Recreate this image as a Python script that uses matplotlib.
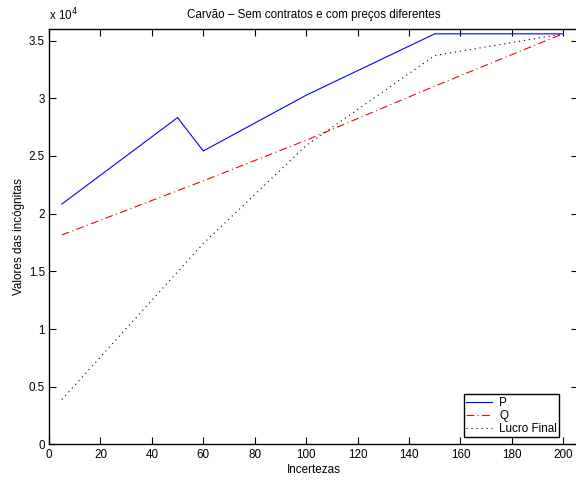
import matplotlib
matplotlib.use("Agg")
import matplotlib.pyplot as plt
from matplotlib.ticker import FuncFormatter, MultipleLocator

plt.rcParams['font.family'] = ['Liberation Sans', 'DejaVu Sans']

incertezas = [5, 50, 60, 100, 150, 200]
P = [20830, 28320, 25430, 30260, 35580, 35580]
Q = [18150, 21990, 22840, 26360, 31050, 35600]
lucro_final = [3890, 14950, 17410, 25900, 33700, 35580]

labels = ['P', 'Q', 'Lucro Final']
title = 'Carvão – Sem contratos e com preços diferentes'

FS = 8.4
fig = plt.figure(figsize=(5.76, 4.8), dpi=100)
ax = fig.add_axes([49/576, 1 - 444.4/480, (577.8 - 49)/576, (444.4 - 29)/480])

ax.plot(incertezas, P, color=(0, 0, 1), lw=0.8, linestyle='-', label=labels[0])
ax.plot(incertezas, Q, color=(1, 0, 0), lw=0.8, linestyle=(0, (7, 3, 1, 3)), label=labels[1])
ax.plot(incertezas, lucro_final, color='black', lw=0.8, linestyle=(0, (1, 3.5)), label=labels[2])

ax.set_xlim(0, (577.8 - 49) / 2.5715)
ax.set_ylim(0, 36000)
ax.xaxis.set_major_locator(MultipleLocator(20))
ax.yaxis.set_major_locator(MultipleLocator(5000))
ax.yaxis.set_major_formatter(FuncFormatter(lambda v, p: '%g' % (v / 1e4)))

ax.tick_params(direction='in', top=True, right=True, length=5, width=0.8,
               labelsize=FS, pad=3, colors='black')
for s in ax.spines.values():
    s.set_linewidth(1.0)

ax.text(0, 1.014, r'x 10$^{4}$', transform=ax.transAxes, fontsize=FS,
        ha='left', va='bottom')
ax.set_title(title, fontsize=FS, pad=8)
ax.set_xlabel('Incertezas', fontsize=FS, labelpad=2.5)
ax.set_ylabel('Valores das incógnitas', fontsize=FS, labelpad=2.5)

leg = ax.legend(loc='lower right', bbox_to_anchor=((559.3 - 49) / (577.8 - 49), 0.018),
                borderaxespad=0, fontsize=FS, fancybox=False, framealpha=1,
                edgecolor='black', labelspacing=0.08, handlelength=2.2,
                handletextpad=0.6, borderpad=0.2)
leg.get_frame().set_linewidth(1.0)

fig.savefig('out.png', dpi=100)
